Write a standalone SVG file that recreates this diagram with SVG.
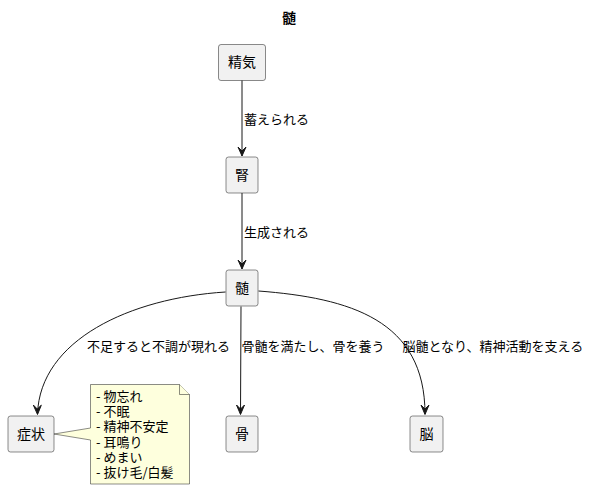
<svg xmlns="http://www.w3.org/2000/svg" width="591" height="490" viewBox="0 0 591 490">
<style>
text{font-family:'Noto Sans CJK JP','Noto Sans',sans-serif;fill:#000}
.node rect{fill:#F1F1F1;stroke:#181818;stroke-width:0.5}
.nt{font-size:14px;text-anchor:middle}
.el{font-size:13px}
.edge{fill:none;stroke:#181818;stroke-width:1}
.ah{fill:#181818;stroke:#181818;stroke-width:1}
.note path{fill:#FEFFDD;stroke:#181818;stroke-width:0.5}
.nl{font-size:13px}
</style>
<rect width="591" height="490" fill="#fff"/>
<text x="289" y="23" text-anchor="middle" font-size="14" font-weight="bold">髄</text>
<g id="n_seiki" class="node"><rect x="218.5" y="44.5" width="47" height="36" rx="2.5"/><text class="nt" x="242" y="67">精気</text></g>
<g id="n_jin" class="node"><rect x="226" y="157" width="32" height="36" rx="2.5"/><text class="nt" x="242" y="180">腎</text></g>
<g id="n_zui" class="node"><rect x="226" y="270" width="32" height="36" rx="2.5"/><text class="nt" x="242" y="293">髄</text></g>
<g id="n_shojo" class="node"><rect x="8" y="416" width="46" height="36" rx="2.5"/><text class="nt" x="31" y="439">症状</text></g>
<g id="n_hone" class="node"><rect x="226" y="416" width="32" height="36" rx="2.5"/><text class="nt" x="242" y="439">骨</text></g>
<g id="n_no" class="node"><rect x="410" y="416" width="33" height="36" rx="2.5"/><text class="nt" x="426.5" y="439">脳</text></g>
<g id="note" class="note">
<path d="M90.5,384.5 L179.5,384.5 L189.5,394.5 L189.5,484 L90.5,484 L90.5,440 L54,434 L90.5,428 Z"/>
<path d="M179.5,384.5 L179.5,394.5 L189.5,394.5" fill="none"/>
<text class="nl" x="96" y="401"><tspan x="96" y="401">- 物忘れ</tspan><tspan x="96" y="416.2">- 不眠</tspan><tspan x="96" y="431.4">- 精神不安定</tspan><tspan x="96" y="446.6">- 耳鳴り</tspan><tspan x="96" y="461.8">- めまい</tspan><tspan x="96" y="477">- 抜け毛/白髪</tspan></text>
</g>
<g id="connectors">
<path class="edge" d="M242,80.5 L242,156"/>
<polygon class="ah" points="238,147 242,156 246,147 242,151"/>
<text class="el" x="244" y="123.5">蓄えられる</text>
<path class="edge" d="M242,193 L242,269"/>
<polygon class="ah" points="238,260 242,269 246,260 242,264"/>
<text class="el" x="244" y="236.5">生成される</text>
<path class="edge" d="M225.5,292 C130,298 40,340 37.5,414"/>
<polygon class="ah" points="33.3,405 37.5,414.5 41.3,405.2 37.3,409"/>
<text class="el" x="87" y="350.5">不足すると不調が現れる</text>
<path class="edge" d="M241,306.5 L240.5,414"/>
<polygon class="ah" points="236.5,405 240.5,414.5 244.5,405 240.5,409"/>
<text class="el" x="241.5" y="350.5">骨髄を満たし、骨を養う</text>
<path class="edge" d="M258.5,291 C350,298 425,320 425,414"/>
<polygon class="ah" points="421,405 425,414.5 429,405 425,409"/>
<text class="el" x="402.5" y="350.5">脳髄となり、精神活動を支える</text>
</g>
</svg>
